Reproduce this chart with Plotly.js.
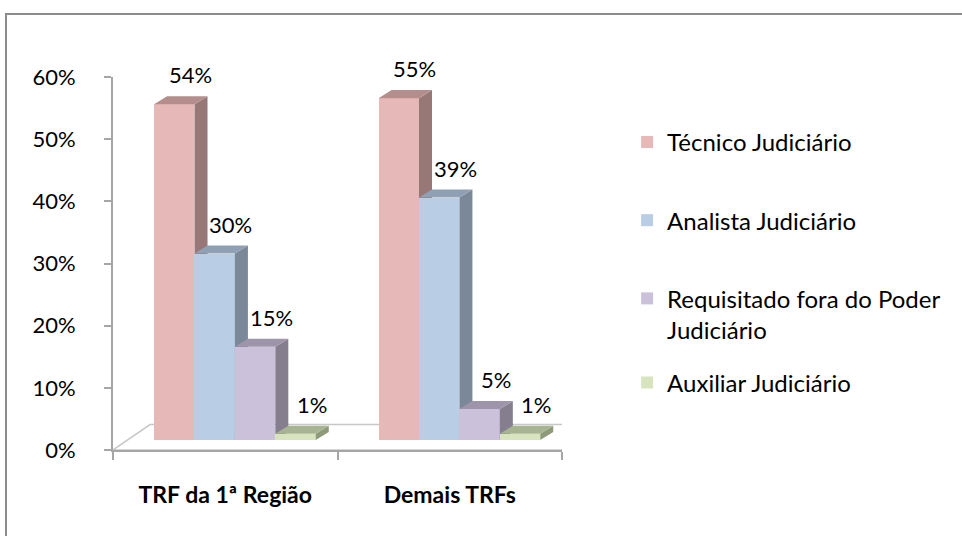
<!DOCTYPE html>
<html>
<head>
<meta charset="utf-8">
<script src="https://cdn.plot.ly/plotly-3.0.1.min.js"></script>
<style>
  html, body { margin: 0; padding: 0; background: #ffffff; overflow: hidden; }
  #wrap { position: relative; width: 962px; height: 536px; }
  #chart { position: absolute; left: 0; top: 0; width: 962px; height: 536px; }
  #frame { position: absolute; left: 5px; top: 13px; width: 980px; height: 560px;
           border-top: 2px solid #8c8c8c; border-left: 2px solid #8c8c8c; pointer-events: none; }
</style>
</head>
<body>
<div id="wrap">
  <div id="chart"></div>
  <div id="frame"></div>
</div>
<script>
// ---- data ----
const categories = ["TRF da 1ª Região", "Demais TRFs"];
const seriesNames = ["Técnico Judiciário", "Analista Judiciário", "Requisitado fora do Poder<br>Judiciário", "Auxiliar Judiciário"];
const tecnico = [54, 55];
const analista = [30, 39];
const requisitado = [15, 5];
const auxiliar = [1, 1];
const yTickVals = [0, 10, 20, 30, 40, 50, 60];
const yTickText = ["0%", "10%", "20%", "30%", "40%", "50%", "60%"];

// ---- style ----
const frontColors = ["#E6B9B8", "#B9CDE5", "#CCC1DA", "#D7E4BD"];
const topColors   = ["#B38E8D", "#8FA0B4", "#9E95AA", "#A8B391"];
const sideColors  = ["#977877", "#7A8899", "#857E8F", "#8F9A7A"];
const FONT = "Lato, 'Open Sans', sans-serif";
const AXIS_GRAY = "#A6A6A6";

const BAR_W = 0.18;          // bar width in category units
const SHIFT_X = 0.043;       // depth shift of bar row (category units)
const BASE = 1.6;            // depth shift of bar row (value units)
const DX = 0.058;            // bar depth, x (category units)
const DY = 1.29;             // bar depth, y (value units)
const FLOOR_DXL = 0.165, FLOOR_DXR = 0.125, FLOOR_DY = 4.1;

const seriesValues = [tecnico, analista, requisitado, auxiliar];
const legendIds = ["legend", "legend", "legend", "legend2"];
const catIdx = categories.map((c, j) => j);

const traces = [];
const annotations = [];

// invisible trace that anchors the visible category / value axes
traces.push({
  type: "scatter", mode: "none", x: categories, y: [0, 0],
  xaxis: "x", yaxis: "y", showlegend: false, hoverinfo: "skip"
});

seriesValues.forEach((vals, i) => {
  const k = i + 2;
  const xa = "x" + k, ya = "y" + k;
  const off = -2 * BAR_W + i * BAR_W + SHIFT_X;
  traces.push({
    type: "bar", x: catIdx, y: vals, base: BASE, width: BAR_W, offset: off,
    xaxis: xa, yaxis: ya, name: seriesNames[i], legendgroup: "g" + i, legend: legendIds[i],
    marker: { color: frontColors[i], line: { width: 0 } },
    hovertemplate: "%{y}%<extra>" + seriesNames[i].replace("<br>", " ") + "</extra>"
  });
  catIdx.forEach((j) => {
    const v = vals[j];
    const xl = j + off, xr = j + off + BAR_W;
    const b = BASE, t = BASE + v;
    // side face
    traces.push({
      type: "scatter", mode: "lines", xaxis: xa, yaxis: ya, showlegend: false, hoverinfo: "skip",
      x: [xr, xr + DX, xr + DX, xr, xr], y: [b, b + DY, t + DY, t, b],
      fill: "toself", fillcolor: sideColors[i], line: { width: 0, color: sideColors[i] }
    });
    // top face
    traces.push({
      type: "scatter", mode: "lines", xaxis: xa, yaxis: ya, showlegend: false, hoverinfo: "skip",
      x: [xl, xl + DX, xr + DX, xr, xl], y: [t, t + DY, t + DY, t, t],
      fill: "toself", fillcolor: topColors[i], line: { width: 0, color: topColors[i] }
    });
    annotations.push({
      xref: xa, yref: ya, x: j + off + BAR_W / 2, y: t + DY,
      text: v + "%", showarrow: false, xanchor: "center", yanchor: "bottom",
      xshift: 16, yshift: 6, font: { family: FONT, size: 22, color: "#000000" }
    });
  });
});

const legendFont = { family: FONT, size: 24, color: "#000000" };
const layout = {
  width: 962, height: 536,
  margin: { l: 113, r: 400, t: 77, b: 86, pad: 0 },
  paper_bgcolor: "#ffffff", plot_bgcolor: "rgba(0,0,0,0)",
  showlegend: true,
  legend: {
    x: 1.145, y: 0.885, xanchor: "left", yanchor: "top",
    font: legendFont, traceorder: "grouped", tracegroupgap: 44, valign: "top",
    bgcolor: "rgba(0,0,0,0)", itemclick: false, itemdoubleclick: false
  },
  legend2: {
    x: 1.145, y: 0.24, xanchor: "left", yanchor: "top",
    font: legendFont, valign: "top",
    bgcolor: "rgba(0,0,0,0)", itemclick: false, itemdoubleclick: false
  },
  xaxis: {
    type: "category", categoryorder: "array", categoryarray: categories,
    range: [-0.5, 1.5], tickson: "boundaries", ticks: "outside", ticklen: 8,
    tickcolor: AXIS_GRAY, tickwidth: 2, showline: true, linecolor: AXIS_GRAY, linewidth: 2,
    showgrid: false, zeroline: false, fixedrange: true, ticklabelstandoff: 23,
    tickfont: { family: FONT, size: 23, color: "#000000", weight: 700 }
  },
  yaxis: {
    range: [0, 60], tickmode: "array", tickvals: yTickVals, ticktext: yTickText,
    ticks: "outside", ticklen: 7,
    tickcolor: AXIS_GRAY, tickwidth: 2, showline: true, linecolor: AXIS_GRAY, linewidth: 2,
    showgrid: false, zeroline: false, fixedrange: true, ticklabelstandoff: 24,
    tickfont: { family: FONT, size: 22, color: "#000000" }
  },
  shapes: [{
    type: "path", xref: "x2", yref: "y2", layer: "below",
    path: "M -0.5,0 L " + (-0.5 + FLOOR_DXL) + "," + FLOOR_DY + " L " + (1.5 + FLOOR_DXR) + "," + FLOOR_DY + " L 1.5,0 Z",
    line: { color: "#C8C8C8", width: 1.5 }, fillcolor: "#ffffff"
  }],
  annotations: annotations,
  bargap: 0
};
for (let k = 2; k <= 5; k++) {
  layout["xaxis" + k] = { overlaying: "x", anchor: "y" + k, range: [-0.5, 1.5], visible: false, fixedrange: true };
  layout["yaxis" + k] = { overlaying: "y", anchor: "x" + k, range: [0, 60], visible: false, fixedrange: true };
}

Plotly.newPlot("chart", traces, layout, { displayModeBar: false });
</script>
</body>
</html>
